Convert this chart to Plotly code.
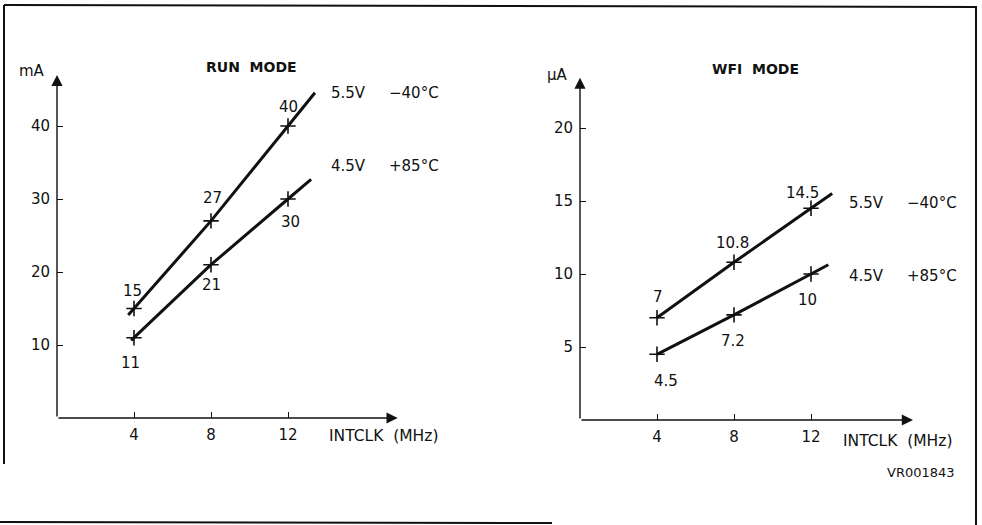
import plotly.graph_objects as go

# ---------------- data ----------------
freq_mhz = [4, 8, 12]

run_55v_m40 = [15, 27, 40]      # mA, 5.5V -40°C
run_45v_p85 = [11, 21, 30]      # mA, 4.5V +85°C
wfi_55v_m40 = [7, 10.8, 14.5]   # µA, 5.5V -40°C
wfi_45v_p85 = [4.5, 7.2, 10]    # µA, 4.5V +85°C

run_yticks = [10, 20, 30, 40]
wfi_yticks = [5, 10, 15, 20]
x_ticks = [4, 8, 12]

series_volt = ["5.5V", "4.5V"]
series_temp = ["−40°C", "+85°C"]
panel_titles = ["RUN  MODE", "WFI  MODE"]
unit_labels = ["mA", "µA"]
x_title = "INTCLK  (MHz)"
ref_code = "VR001843"

# ---------------- layout geometry (pixels) ----------------
W, H = 982, 525
FONT = "DejaVu Sans"
INK = "#111111"

def px(x, y):
    return x / W, (H - y) / H

L_x0, L_y0, L_xr, L_yr = 57, 418, [0, 18.2], [0, 48]
R_x0, R_y0, R_xr, R_yr = 580, 420, [0, 17.8], [0, 24]
xpu = 19.25
L_ypu, R_ypu = 7.3, 14.6

def extend(xs, ys, x_lo, x_hi):
    s0 = (ys[1] - ys[0]) / (xs[1] - xs[0])
    s1 = (ys[-1] - ys[-2]) / (xs[-1] - xs[-2])
    return ([x_lo] + list(xs) + [x_hi],
            [ys[0] + s0 * (x_lo - xs[0])] + list(ys) + [ys[-1] + s1 * (x_hi - xs[-1])])

fig = go.Figure()

panels = [
    dict(xa="x", ya="y", series=[run_55v_m40, run_45v_p85],
         ext=[(3.7, 13.4), (3.85, 13.2)],
         offs=[[(-2, 18), (1, 23), (0, 19)], [(-4, -25), (0, -20), (2, -23)]]),
    dict(xa="x2", ya="y2", series=[wfi_55v_m40, wfi_45v_p85],
         ext=[(4.0, 13.1), (4.0, 12.9)],
         offs=[[(1, 21), (-2, 19), (-9, 15)], [(9, -27), (-1, -26), (-4, -26)]]),
]

annotations = []
for p in panels:
    for vals, (lo, hi), offs in zip(p["series"], p["ext"], p["offs"]):
        ex, ey = extend(freq_mhz, vals, lo, hi)
        fig.add_trace(go.Scatter(x=ex, y=ey, mode="lines", xaxis=p["xa"], yaxis=p["ya"],
                                 line=dict(color=INK, width=3), showlegend=False,
                                 hoverinfo="skip"))
        fig.add_trace(go.Scatter(x=freq_mhz, y=vals, mode="markers", xaxis=p["xa"], yaxis=p["ya"],
                                 marker=dict(symbol="cross-thin", size=11, color=INK,
                                             line=dict(color=INK, width=1.6)),
                                 showlegend=False))
        for xv, yv, (dx, dy) in zip(freq_mhz, vals, offs):
            annotations.append(dict(x=xv, y=yv, xref=p["xa"], yref=p["ya"], text=f"{yv:g}",
                                    showarrow=False, xshift=dx, yshift=dy,
                                    font=dict(family=FONT, size=15, color=INK)))
    xr = L_xr if p["xa"] == "x" else R_xr
    yr = L_yr if p["xa"] == "x" else R_yr
    for tx, ty in [(xr[1] - 0.5, 0), (0, yr[1] - (1 if p["xa"] == "x" else 0.55))]:
        annotations.append(dict(x=tx, y=ty, ax=0, ay=0, xref=p["xa"], yref=p["ya"],
                                axref=p["xa"], ayref=p["ya"], text="", showarrow=True,
                                arrowhead=2, arrowsize=1.6, arrowwidth=1.4, arrowcolor=INK))

def txt(x, y, s, size=14, bold=False, anchor="center"):
    xx, yy = px(x, y)
    annotations.append(dict(x=xx, y=yy, xref="paper", yref="paper", text=f"<b>{s}</b>" if bold else s,
                            showarrow=False, xanchor=anchor, yanchor="middle",
                            font=dict(family=FONT, size=size, color=INK)))

txt(251, 67, panel_titles[0], 14, bold=True)
txt(755, 69, panel_titles[1], 14, bold=True)
txt(32, 71, unit_labels[0], 15)
txt(557, 75, unit_labels[1], 15)
txt(327, 436, x_title, 15.5, anchor="left")
txt(841, 441, x_title, 15.5, anchor="left")
txt(921, 472, ref_code, 13)

for (vx, tx, y1, y2) in [(329, 387, 93, 166), (847, 905, 203, 276)]:
    txt(vx, y1, series_volt[0], 15, anchor="left")
    txt(tx, y1, series_temp[0], 15, anchor="left")
    txt(vx, y2, series_volt[1], 15, anchor="left")
    txt(tx, y2, series_temp[1], 15, anchor="left")

def dom_x(x0, rng):
    return [x0 / W, (x0 + rng[1] * xpu) / W]

def dom_y(y0, rng, ypu):
    return [(H - y0) / H, (H - y0 + rng[1] * ypu) / H]

axis_common = dict(showgrid=False, zeroline=False, showline=False, ticks="inside", ticklen=6,
                   tickwidth=1.3, tickcolor=INK, ticklabelstandoff=6,
                   tickfont=dict(family=FONT, size=15, color=INK), fixedrange=True)

fig.update_layout(
    width=W, height=H, margin=dict(l=0, r=0, t=0, b=0),
    paper_bgcolor="white", plot_bgcolor="rgba(0,0,0,0)",
    xaxis=dict(domain=dom_x(L_x0, L_xr), range=L_xr, tickvals=x_ticks, anchor="y", **axis_common),
    yaxis=dict(domain=dom_y(L_y0, L_yr, L_ypu), range=L_yr, tickvals=run_yticks, anchor="x", **axis_common),
    xaxis2=dict(domain=dom_x(R_x0, R_xr), range=R_xr, tickvals=x_ticks, anchor="y2", **axis_common),
    yaxis2=dict(domain=dom_y(R_y0, R_yr, R_ypu), range=R_yr, tickvals=wfi_yticks, anchor="x2", **axis_common),
    annotations=annotations,
    showlegend=False,
)

frame = [(4, 5, 977, 7), (4, 5, 4, 464), (976, 7, 976, 525), (0, 522, 552, 523)]
for x0, y0, x1, y1 in frame:
    a, b = px(x0, y0)
    c, d = px(x1, y1)
    fig.add_shape(type="line", xref="paper", yref="paper", x0=a, y0=b, x1=c, y1=d,
                  line=dict(color=INK, width=2))

fig.write_html("out.html", config={"displayModeBar": False},
               post_script="document.body.style.margin='0';document.body.style.overflow='hidden';")
